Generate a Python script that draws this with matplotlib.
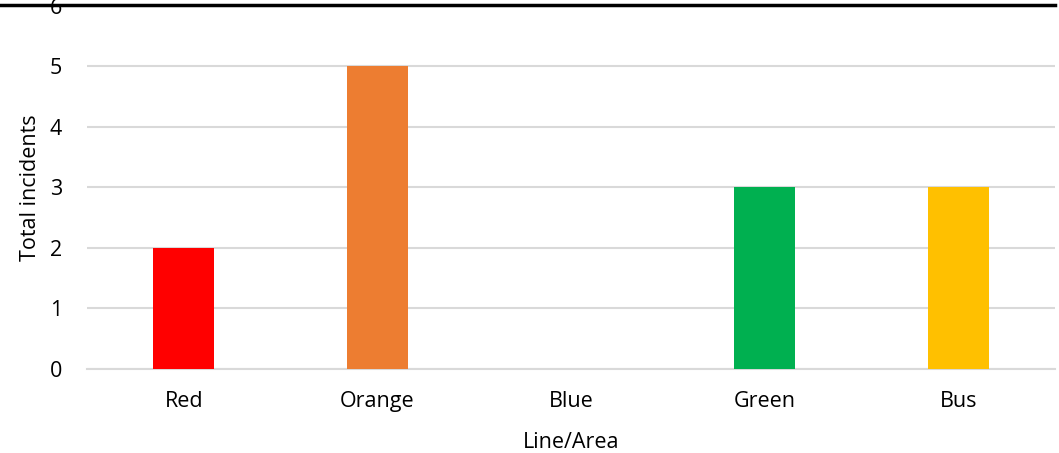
import matplotlib.pyplot as plt
from matplotlib.lines import Line2D

# incidents per line / area
lines = ['Red', 'Orange', 'Blue', 'Green', 'Bus']
incidents = [2, 5, 0, 3, 3]
barColors = ['#FF0000', '#ED7D31', '#4472C4', '#00B050', '#FFC000']
yTicks = [0, 1, 2, 3, 4, 5, 6]

plt.rcParams['font.family'] = ['Open Sans', 'DejaVu Sans']
FONT_SIZE = 15.5

fig = plt.figure(figsize=(10.59, 4.53), dpi=100)
ax = fig.add_axes([0.0822, 0.1854, 0.9140, 0.8020])

x = range(len(lines))
ax.bar(x, incidents, width=0.315, color=barColors, zorder=3)

ax.set_xlim(-0.5, len(lines) - 0.5)
ax.set_ylim(0, 6)
ax.set_yticks(yTicks)
ax.set_xticks(list(x))
ax.set_xticklabels(lines)

ax.grid(axis='y', color='#D9D9D9', linewidth=1.5, zorder=0)
for s in ['top', 'right', 'left']:
	ax.spines[s].set_visible(False)
ax.spines['bottom'].set_color('#D9D9D9')
ax.spines['bottom'].set_linewidth(1.5)

ax.tick_params(axis='both', length=0, labelsize=FONT_SIZE, colors='black')
ax.tick_params(axis='x', pad=16)
ax.tick_params(axis='y', pad=18)

ax.set_xlabel('Line/Area', fontsize=FONT_SIZE, labelpad=14)
ax.set_ylabel('Total incidents', fontsize=FONT_SIZE, labelpad=6)

# black border line at the top of the cropped picture
fig.add_artist(Line2D([0, 0.9962], [0.990, 0.990], color='black', linewidth=2.5))

fig.savefig('out.png', dpi=100)
